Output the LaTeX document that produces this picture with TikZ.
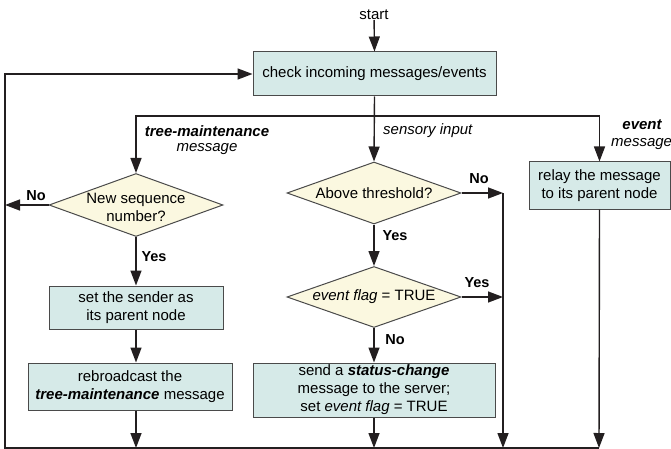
\documentclass[tikz,border=0pt]{standalone}
\usepackage{fontspec}
\setmainfont{Liberation Sans}
\usetikzlibrary{arrows.meta,shapes.geometric}
\definecolor{boxfill}{HTML}{D6EAE8}
\definecolor{diafill}{HTML}{FBF8E0}
\definecolor{edge}{HTML}{4A4A4A}
\definecolor{ink}{HTML}{231F20}
\tikzset{
  box/.style={draw=edge,line width=1pt,fill=boxfill,rectangle,inner sep=0pt,align=center,font=\fontsize{15}{18}\selectfont},
  dia/.style={draw=edge,line width=1pt,fill=diafill,diamond,inner sep=0pt},
  dtext/.style={align=center,inner sep=0pt,font=\fontsize{15}{18}\selectfont},
  conn/.style={draw=ink,line width=1.4pt},
  arr/.style={conn,-{Triangle[length=15pt,width=11pt]}},
  lbl/.style={inner sep=0pt,font=\fontsize{14.5}{17}\selectfont\bfseries},
  itl/.style={inner sep=0pt,font=\fontsize{15}{18}\selectfont\itshape},
}
\begin{document}
\begin{tikzpicture}[x=1pt,y=-1pt]
\useasboundingbox (0,0) rectangle (671,449);
% nodes
\node[inner sep=0pt,font=\fontsize{15}{18}\selectfont] (start) at (374,15) {start};
\node[box,minimum width=243pt,minimum height=44pt] (check) at (374.5,74) {check incoming messages/events};
\node[dia,minimum width=174pt,minimum height=63pt] (d1) at (136,205) {};
\node[dtext] (d1t) at (136,207) {New sequence\\number?};
\node[box,minimum width=174pt,minimum height=43pt] (set) at (136,307.5) {set the sender as\\its parent node};
\node[box,minimum width=204pt,minimum height=47pt] (rb) at (130,386.5) {rebroadcast the\\\textbf{\textit{tree-maintenance}} message};
\node[dia,minimum width=174pt,minimum height=62pt] (d2) at (374,193) {};
\node[dtext] (d2t) at (374,193) {Above threshold?};
\node[dia,minimum width=174pt,minimum height=61pt] (d3) at (374,297) {};
\node[dtext] (d3t) at (374,297) {\textit{event flag} = TRUE};
\node[box,minimum width=242pt,minimum height=54pt] (send) at (374,390) {send a \textbf{\textit{status-change}}\\message to the server;\\set \textit{event flag} = TRUE};
\node[box,minimum width=141pt,minimum height=47pt] (relay) at (599.5,185.5) {relay the message\\to its parent node};
% coordinates
\coordinate (br) at (374,116);
\coordinate (bl) at (5,448);
\coordinate (no1) at (5,205);
\coordinate (vr) at (503,193);
\coordinate (vy) at (503,297);
\coordinate (vb) at (503,448);
\coordinate (rb1) at (136,448);
\coordinate (sb) at (374,448);
\coordinate (relb) at (599,448);
% connectors
\draw[arr] (start) -- (check.north);
\draw[arr] (check.south) -- (d2.north);
\draw[arr] (br) -| (d1.north);
\draw[arr] (br) -| (relay.north);
\draw[arr] (d1.west) -- (no1);
\draw[arr] (d1.south) -- (set.north);
\draw[arr] (set.south) -- (set.south |- rb.north);
\draw[arr] (set.south |- rb.south) -- (rb1);
\draw[arr] (d2.east) -- (vr);
\draw[arr] (vr) -- (vb);
\draw[arr] (d2.south) -- (d3.north);
\draw[arr] (d3.east) -- (vy);
\draw[arr] (d3.south) -- (send.north);
\draw[arr] (send.south) -- (sb);
\draw[arr] (relay.south) -- (relb);
\draw[arr] (relb) -- (bl) -- (bl |- check.west) -- (check.west);
% labels
\node[lbl] (lno1) at (36,196) {No};
\node[lbl] (lyes1) at (154,257) {Yes};
\node[lbl] (lno2) at (479,179) {No};
\node[lbl] (lyes2) at (395,236) {Yes};
\node[lbl] (lyes3) at (477,283) {Yes};
\node[lbl] (lno3) at (395,340) {No};
\node[itl,font=\fontsize{15}{18}\selectfont\bfseries\itshape] (tm) at (207,131) {tree-maintenance};
\node[itl] (tmm) at (207,149) {message};
\node[itl,anchor=west] (si) at (383,131) {sensory input};
\node[itl,font=\fontsize{15}{18}\selectfont\bfseries\itshape] (ev) at (642,125) {event};
\node[itl,anchor=west] (evm) at (611,144) {message};
\end{tikzpicture}
\end{document}
